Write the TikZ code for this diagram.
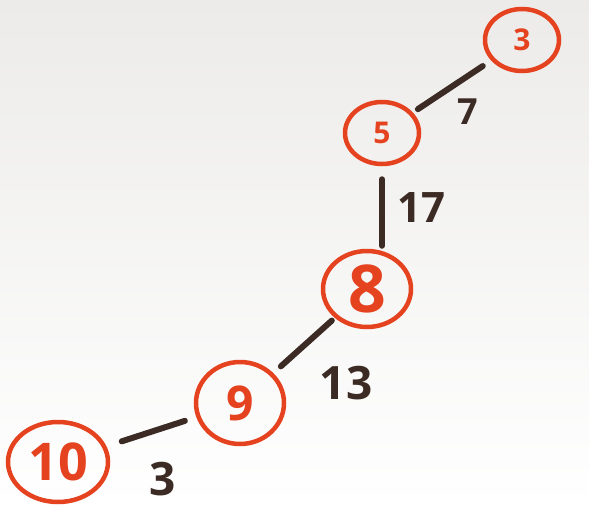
\documentclass[tikz,border=0pt]{standalone}
\usepackage{fontspec}
\setmainfont{Open Sans}
\usetikzlibrary{shapes.geometric}
\definecolor{ink}{HTML}{E5431F}
\definecolor{pen}{HTML}{3B2B24}
\definecolor{paper}{HTML}{ECEBE9}
\tikzset{
  vert/.style={ellipse, draw=ink, line width=4.5pt, text=ink, inner sep=0pt, font=\fontsize{#1}{#1}\selectfont\bfseries},
  edge/.style={draw=pen, line width=6pt, line cap=round},
  wlabel/.style={text=pen, inner sep=0pt, font=\fontsize{#1}{#1}\selectfont\bfseries}
}
\begin{document}
\begin{tikzpicture}[x=1pt,y=-1pt]
\shade[shading angle=-50, top color=paper, bottom color=white] (0,0) rectangle (589,506);
\useasboundingbox (0,0) rectangle (589,506);
\node[vert=30, minimum width=74pt, minimum height=62pt] (n3) at (522,40) {3};
\node[vert=30, minimum width=74pt, minimum height=62pt] (n5) at (382,133) {5};
\node[vert=66, minimum width=88pt, minimum height=76pt] (n8) at (367,289) {8};
\node[vert=48, minimum width=88pt, minimum height=82pt] (n9) at (240,403) {9};
\node[vert=52, minimum width=100pt, minimum height=80pt] (n10) at (58,462) {10};
\draw[edge, shorten <=10pt, shorten >=6pt] (n3) -- (n5);
\draw[edge] ([yshift=-13pt]n5.south) -- ([yshift=3pt]n5.south |- n8.north);
\draw[edge, shorten <=4pt, shorten >=10pt] (n8) -- (n9);
\draw[edge, shorten <=12pt, shorten >=16pt] (n9) -- (n10);
\node[wlabel=36] (l7) at (468,112) {7};
\node[wlabel=42] (l17) at (421,208) {17};
\node[wlabel=46] (l13) at (346,383) {13};
\node[wlabel=46] (l3) at (163,479) {3};
\end{tikzpicture}
\end{document}
